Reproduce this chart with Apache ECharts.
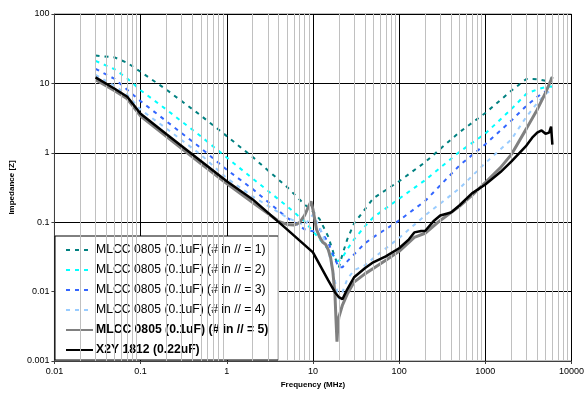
<!DOCTYPE html>
<html>
<head>
<meta charset="utf-8">
<script src="https://cdn.jsdelivr.net/npm/echarts@6/dist/echarts.min.js"></script>
<style>html,body{margin:0;padding:0;background:#fff;}#c{width:587px;height:394px;}</style>
</head>
<body>
<div id="c"></div>
<script>
// ---- data (frequency in MHz, impedance in ohms) ----
var freqDashed = [0.03,0.05,0.07,0.1,0.2,0.5,1,2,5,8,10,12,15,18,20,22,25,30,40,50,100,200,500,1000,2000,3000,4000,5000,6000];
var mlcc1 = [25.2,23.7,19.8,14.7,8.1,3.44,1.74,0.867,0.321,0.18,0.143,0.11,0.0625,0.031,0.0224,0.0344,0.0566,0.096,0.153,0.22,0.389,0.731,1.98,3.74,7.83,11.6,11.5,10.9,12.0];
var mlcc2 = [21.1,16.0,11.8,7.98,4.18,1.73,0.853,0.425,0.17,0.103,0.074,0.0566,0.0406,0.0312,0.0273,0.0312,0.0406,0.0566,0.087,0.117,0.218,0.403,1.03,1.89,4.25,7.1,8.2,8.85,9.0];
var mlcc3 = [16.2,11.6,8.1,5.55,2.84,1.17,0.57,0.30,0.116,0.0789,0.074,0.079,0.0513,0.0292,0.0224,0.0224,0.0273,0.0344,0.0495,0.0605,0.106,0.202,0.655,1.33,2.9,4.77,6.41,7.66,8.55];
var mlcc4 = [13.3,9.25,6.86,4.18,2.23,0.94,0.432,0.235,0.117,0.09,0.129,0.084,0.0406,0.0141,0.0078,0.0098,0.0151,0.0203,0.0239,0.0302,0.0594,0.125,0.306,0.711,1.55,3.31,5.21,7.1,8.1];

var freqGray = [0.03,0.05,0.07,0.1,0.2,0.5,1,2,4,5,6,7,8,9,9.5,10,11,12,13,14,15,16,17,18,18.5,19,19.5,20,22,25,30,40,50,70,100,150,200,300,500,700,1000,1500,2000,3000,4000,5000,6000];
var mlcc5 = [11.3,7.83,6.0,3.37,1.71,0.70,0.36,0.192,0.103,0.093,0.091,0.099,0.125,0.174,0.199,0.153,0.0789,0.0605,0.0513,0.048,0.0406,0.0312,0.0196,0.0092,0.004,0.0019,0.0034,0.0043,0.0064,0.0092,0.0137,0.018,0.0215,0.0282,0.038,0.0605,0.0693,0.106,0.169,0.244,0.373,0.612,0.94,2.23,4.18,7.33,12.4];

var freqX2Y = [0.03,0.05,0.07,0.1,0.2,0.5,1,2,5,10,15,18,20,22,25,30,40,50,70,100,130,150,180,200,250,300,400,500,700,1000,1500,2000,3000,3500,4000,4500,5000,5500,5800,6000];
var x2y = [12.2,8.36,6.41,3.66,1.85,0.76,0.389,0.213,0.0789,0.0368,0.0146,0.0098,0.0083,0.0078,0.0108,0.0161,0.0217,0.0264,0.0322,0.0421,0.0566,0.0713,0.0745,0.0748,0.103,0.125,0.138,0.174,0.26,0.349,0.528,0.748,1.27,1.65,1.95,2.1,1.88,1.95,2.38,1.31];

var seriesNames = [
  'MLCC 0805 (0.1uF) (# in // = 1)',
  'MLCC 0805 (0.1uF) (# in // = 2)',
  'MLCC 0805 (0.1uF) (# in // = 3)',
  'MLCC 0805 (0.1uF) (# in // = 4)',
  'MLCC 0805 (0.1uF) (# in // = 5)',
  'X2Y 1812 (0.22uF)'
];
var xTickLabels = ['0.01','0.1','1','10','100','1000','10000'];
var yTickLabels = ['0.001','0.01','0.1','1','10','100'];
var xAxisTitle = 'Frequency (MHz)';
var yAxisTitle = 'Impedance [Z]';

// ---- build ----
function pairs(fs, zs){ return fs.map(function(f,i){ return [f, zs[i]]; }); }
var minorX = [];
for (var k = -2; k <= 3; k++) { for (var m = 2; m <= 9; m++) { minorX.push({xAxis: +(m*Math.pow(10,k)).toPrecision(3)}); } }

var font = 'Liberation Sans, Arial, sans-serif';
function dashed(name, data, color){
  return {name:name, type:'line', data:data, symbol:'none', showSymbol:false, z:3,
    lineStyle:{color:color, width:2, type:[4,5]}, itemStyle:{color:color}};
}
var chart = echarts.init(document.getElementById('c'), null, {renderer:'canvas'});
chart.setOption({
  animation:false,
  backgroundColor:'#fff',
  grid:{left:50, right:12, top:14, bottom:32, show:true, borderColor:'#808080', borderWidth:1},
  xAxis:{type:'log', logBase:10, min:0.01, max:10000, splitNumber:6,
    name:xAxisTitle, nameLocation:'middle', nameGap:20,
    nameTextStyle:{fontFamily:font, fontSize:8, fontWeight:'bold', color:'#000'},
    axisLine:{show:true, lineStyle:{color:'#404040', width:1}},
    axisTick:{show:true, length:3, lineStyle:{color:'#404040'}},
    axisLabel:{fontFamily:font, fontSize:9, color:'#000', margin:6,
      formatter:function(v){ return xTickLabels[Math.round(Math.log10(v))+2]; }},
    splitLine:{show:true, lineStyle:{color:'#000', width:1}},
    minorTick:{show:false}, minorSplitLine:{show:false}},
  yAxis:{type:'log', logBase:10, min:0.001, max:100, splitNumber:5,
    name:yAxisTitle, nameLocation:'middle', nameGap:36,
    nameTextStyle:{fontFamily:font, fontSize:8, fontWeight:'bold', color:'#000'},
    axisLine:{show:true, lineStyle:{color:'#404040', width:1}},
    axisTick:{show:true, length:3, lineStyle:{color:'#404040'}},
    axisLabel:{fontFamily:font, fontSize:9, color:'#000', margin:5,
      formatter:function(v){ return yTickLabels[Math.round(Math.log10(v))+3]; }},
    splitLine:{show:true, lineStyle:{color:'#000', width:1}}},
  legend:{orient:'vertical', left:55, top:236, padding:[8,10,4,10], itemGap:8,
    itemWidth:27, itemHeight:14, backgroundColor:'#fff', borderColor:'#000', borderWidth:1,
    itemStyle:{opacity:0},
    textStyle:{fontFamily:font, fontSize:12.2, color:'#000', padding:[0,0,0,-2]},
    data:[
      {name:seriesNames[0]},{name:seriesNames[1]},{name:seriesNames[2]},{name:seriesNames[3]},
      {name:seriesNames[4], textStyle:{fontWeight:'bold'}},
      {name:seriesNames[5], textStyle:{fontWeight:'bold'}}
    ]},
  series:[
    {name:'minor', type:'line', data:[], z:1, silent:true,
      markLine:{silent:true, symbol:'none', animation:false, label:{show:false},
        lineStyle:{color:'#c0c0c0', width:1, type:'solid'}, data:minorX}},
    dashed(seriesNames[0], pairs(freqDashed, mlcc1), '#008080'),
    dashed(seriesNames[1], pairs(freqDashed, mlcc2), '#00ffff'),
    dashed(seriesNames[2], pairs(freqDashed, mlcc3), '#3366ff'),
    dashed(seriesNames[3], pairs(freqDashed, mlcc4), '#99ccff'),
    {name:seriesNames[4], type:'line', data:pairs(freqGray, mlcc5), symbol:'none', showSymbol:false, z:4,
      lineStyle:{color:'#808080', width:3}, itemStyle:{color:'#808080'}},
    {name:seriesNames[5], type:'line', data:pairs(freqX2Y, x2y), symbol:'none', showSymbol:false, z:5,
      lineStyle:{color:'#000', width:2.5}, itemStyle:{color:'#000'}}
  ]
});
</script>
</body>
</html>
